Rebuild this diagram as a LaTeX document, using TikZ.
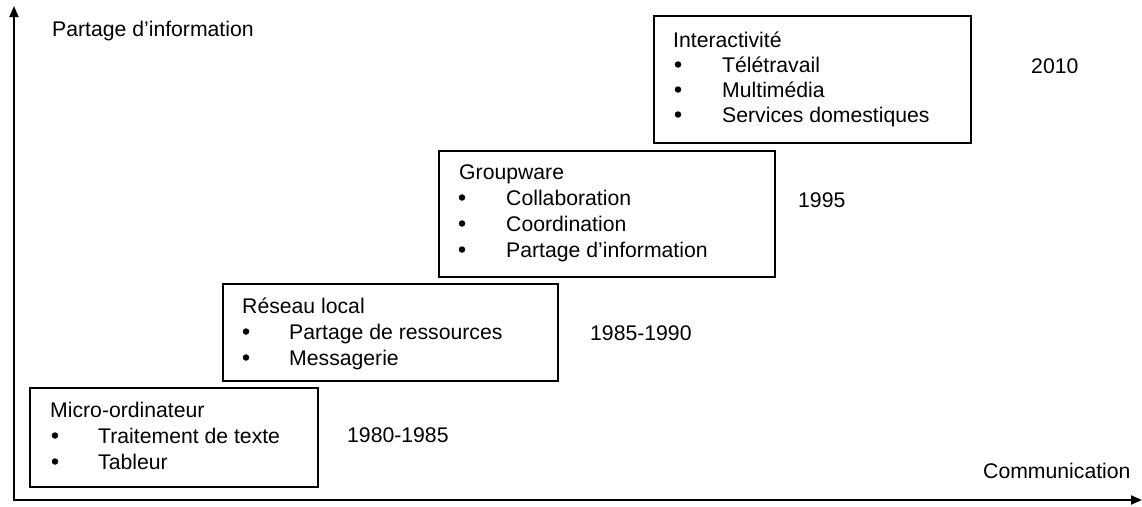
\documentclass[tikz,border=0pt]{standalone}
\usepackage{fontspec}
\setmainfont{Liberation Sans}
\usetikzlibrary{arrows.meta}
\begin{document}
\begin{tikzpicture}[x=1pt,y=-1pt,
  every node/.style={font=\fontsize{21.2}{26}\selectfont, inner sep=0pt},
  txt/.style={anchor=base west},
  dot/.style={circle, fill, minimum size=6.5pt, yshift=7.5pt},
  box/.style={draw, line width=1.8pt, anchor=north west, inner sep=0pt},
  axis/.style={line width=1.8pt, {Triangle[length=11pt,width=9pt]}-{Triangle[length=11pt,width=9pt]}}]
\useasboundingbox (0,0) rectangle (1142,506);

% axes
\coordinate (ytop) at (14,6);
\coordinate (O) at (14,500);
\coordinate (xend) at (1142,500);
\draw[axis] (ytop) -- (O) -- (xend);
\node[txt] (ylab) at (52,36) {Partage d’information};
\node[txt] (xlab) at (983,478) {Communication};

% stage 1
\node[box, minimum width=288pt, minimum height=99pt] (b1) at (29,387) {};
\node[txt] (t1) at (50,417) {Micro-ordinateur};
\node[dot] (d11) at (55,443) {};
\node[txt] (i11) at (98,443) {Traitement de texte};
\node[dot] (d12) at (55,469) {};
\node[txt] (i12) at (98,469) {Tableur};
\node[txt] (y1) at (347,442) {1980-1985};

% stage 2
\node[box, minimum width=335pt, minimum height=97pt] (b2) at (222,283) {};
\node[txt] (t2) at (242,313) {Réseau local};
\node[dot] (d21) at (246,339) {};
\node[txt] (i21) at (289,339) {Partage de ressources};
\node[dot] (d22) at (246,365) {};
\node[txt] (i22) at (289,365) {Messagerie};
\node[txt] (y2) at (590,340) {1985-1990};

% stage 3
\node[box, minimum width=336pt, minimum height=126pt] (b3) at (438,150) {};
\node[txt] (t3) at (459,179) {Groupware};
\node[dot] (d31) at (462,205) {};
\node[txt] (i31) at (506,205) {Collaboration};
\node[dot] (d32) at (462,231) {};
\node[txt] (i32) at (506,231) {Coordination};
\node[dot] (d33) at (462,257) {};
\node[txt] (i33) at (506,257) {Partage d’information};
\node[txt] (y3) at (798,207) {1995};

% stage 4
\node[box, minimum width=317pt, minimum height=127pt] (b4) at (653,15) {};
\node[txt] (t4) at (673,47) {Interactivité};
\node[dot] (d41) at (678,72) {};
\node[txt] (i41) at (722,72) {Télétravail};
\node[dot] (d42) at (678,97) {};
\node[txt] (i42) at (722,97) {Multimédia};
\node[dot] (d43) at (678,122) {};
\node[txt] (i43) at (722,122) {Services domestiques};
\node[txt] (y4) at (1031,73) {2010};
\end{tikzpicture}
\end{document}
